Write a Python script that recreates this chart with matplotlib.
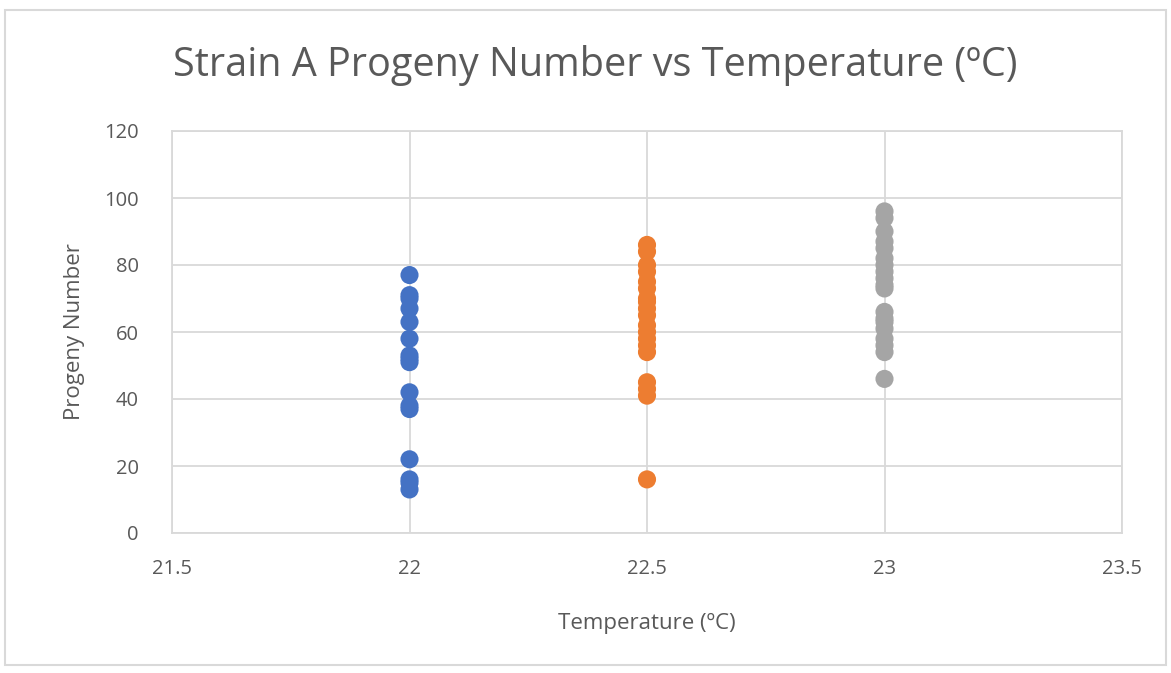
import matplotlib
matplotlib.use("Agg")
import matplotlib.pyplot as plt
from matplotlib.patches import Rectangle

temps = [22.0, 22.5, 23.0]
progeny_22 = [77, 71, 70, 67, 63, 58, 53, 52, 51, 42, 38, 37, 22, 16, 15, 13]
progeny_225 = [86, 84, 80, 78, 75, 73, 70, 69, 67, 65, 62, 60, 58, 56, 54, 45, 43, 41, 16]
progeny_23 = [96, 94, 90, 87, 85, 82, 80, 78, 76, 74, 73, 66, 64, 63, 61, 58, 56, 54, 46]
colors = ["#4472C4", "#ED7D31", "#A5A5A5"]
xticks = [21.5, 22, 22.5, 23, 23.5]
xtick_labels = ["21.5", "22", "22.5", "23", "23.5"]
yticks = [0, 20, 40, 60, 80, 100, 120]

plt.rcParams['font.family'] = ['Open Sans', 'DejaVu Sans']
fig = plt.figure(figsize=(11.71, 6.73), dpi=100)
ax = fig.add_axes([172/1171, 1-533/673, (1122-172)/1171, (533-131)/673])

for t, vals, c in zip(temps, [progeny_22, progeny_225, progeny_23], colors):
    ax.scatter([t]*len(vals), vals, s=170, color=c, edgecolors='none', zorder=3)

ax.set_xlim(21.5, 23.5)
ax.set_ylim(0, 120)
ax.set_xticks(xticks)
ax.set_xticklabels(xtick_labels)
ax.set_yticks(yticks)
ax.grid(True, color="#D9D9D9", linewidth=1.3, zorder=0)
for s in ax.spines.values():
    s.set_color("#D9D9D9")
    s.set_linewidth(1.3)
ax.tick_params(axis='both', length=0, labelsize=14.5, labelcolor="#595959")
ax.tick_params(axis='y', pad=24)
ax.tick_params(axis='x', pad=19)
ax.set_xlabel("Temperature (ºC)", fontsize=16, color="#595959", labelpad=24)
ax.set_ylabel("Progeny Number", fontsize=16, color="#595959", labelpad=14)
fig.text(595/1171, 1-65/673, "Strain A Progeny Number vs Temperature (ºC)",
         ha="center", va="center", fontsize=28.5, color="#595959")

fig.patches.append(Rectangle((5/1171, 0.012), 1-10/1171, 1-10/673-0.012, transform=fig.transFigure,
                             fill=False, edgecolor="#D9D9D9", linewidth=1.5))
fig.savefig("out.png", dpi=100)
